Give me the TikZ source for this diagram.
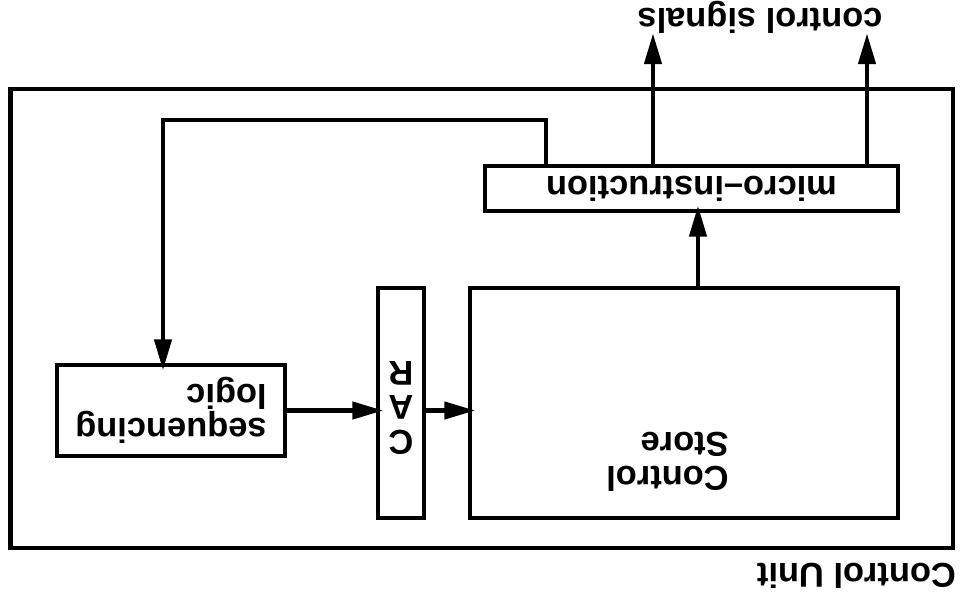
\documentclass[tikz,border=0pt]{standalone}
\usepackage{fontspec}
\setmainfont{Liberation Sans}
\usetikzlibrary{arrows.meta}

\begin{document}
\begin{tikzpicture}[
  rotate=180, transform shape,
  >={Triangle[length=0.78cm,width=0.42cm]},
  box/.style={draw, line width=3.5pt, inner sep=0pt, font=\fontsize{24.5}{24.5}\selectfont\bfseries},
  lbl/.style={inner sep=0pt, font=\fontsize{24.5}{24.5}\selectfont\bfseries},
  arr/.style={->, line width=3.5pt},
  into/.style={arr, shorten >=-0.2cm},
]
\useasboundingbox (0,0) rectangle (24.025,15.025);

\node[box, minimum width=23.56cm, minimum height=11.475cm] (unit) at (11.98,7.9625) {};
\node[lbl, anchor=base west] (unitlbl) at (0.12,14.075) {Control Unit};

\node[box, minimum width=10.7cm, minimum height=5.75cm] (store) at (6.925,10.075) {};
\node[lbl, align=left, anchor=north west] (storelbl) at (5.8,12.3) {Control\\Store};
\node[box, minimum width=1.15cm, minimum height=5.75cm] (car) at (14.0,10.075) {};
\node[lbl, align=center] (carlbl) at (14.0,10.2) {C\\A\\R};
\node[box, minimum width=5.7cm, minimum height=2.275cm, align=left] (seq) at (19.75,10.2625) {sequencing\\logic};
\node[box, minimum width=10.325cm, minimum height=1.125cm] (micro) at (6.7375,4.7125) {micro--instruction};
\node[lbl, anchor=north] (siglbl) at (5.025,0.85) {control signals};

\coordinate (csout) at (6.575,7.2);
\coordinate (sigA) at (2.35,0.825);
\coordinate (sigB) at (7.7,0.825);
\coordinate (fbA) at (10.375,3.0);
\coordinate (fbB) at (19.95,3.0);

\draw[into] (csout) -- (csout |- micro.north);
\draw[arr] (sigA |- micro.south) -- (sigA);
\draw[arr] (sigB |- micro.south) -- (sigB);
\draw[into] (fbA |- micro.south) -- (fbA) -- (fbB) -- (fbB |- seq.south);
\draw[into] (seq.west) -- (seq.west -| car.east);
\draw[into] (seq.west -| car.west) -- (seq.west -| store.east);

\end{tikzpicture}
\end{document}
